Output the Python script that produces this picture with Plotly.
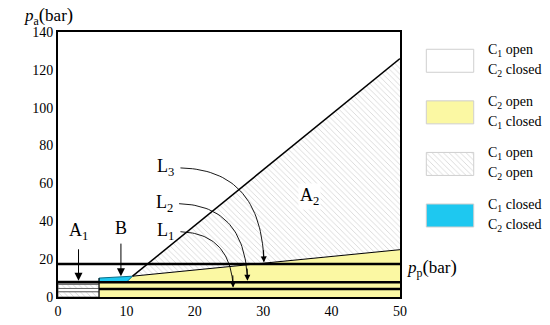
import numpy as np
import plotly.graph_objects as go

# ---------------- data ----------------
x_ticks = [0, 10, 20, 30, 40, 50]
y_ticks = [0, 20, 40, 60, 80, 100, 120, 140]

# boundaries of operating regions (p_p, p_a)
steep_x = [10.9, 50]
steep_y = [11.0, 126]
shallow_x = [10.9, 50]
shallow_y = [11.0, 25]
left_edge_x = 6          # start of yellow zone
cyan_x = [6, 10.9, 10.0, 6]
cyan_y = [10.0, 11.0, 7.8, 7.8]
# horizontal threshold lines L1, L2, L3
level_names = ["L<sub>1</sub>", "L<sub>2</sub>", "L<sub>3</sub>"]
level_vals = [4.2, 7.8, 17.5]
level_start = [6, 0, 0]
# left block bands (A1 zone)
band_lo = [0, 2.8, 4.5, 6.7]
band_hi = [2.8, 4.5, 6.7, 8.4]
band_hatched = [True, False, True, False]
# label positions and arrow tips
label_x = [17.3, 17.1, 17.3]
label_y = [34.5, 49.3, 68.2]
tip_x = [25.6, 27.7, 30.1]

legend_lines = [("C<sub>1</sub> open", "C<sub>2</sub> closed"),
                ("C<sub>2</sub> open", "C<sub>1</sub> closed"),
                ("C<sub>1</sub> open", "C<sub>2</sub> open"),
                ("C<sub>1</sub> closed", "C<sub>2</sub> closed")]
legend_kind = ["white", "yellow", "hatch", "cyan"]

YELLOW = "#fbf8a3"
CYAN = "#1ec8f0"
HATCH = dict(shape="\\", fgcolor="#a8a8a8", bgcolor="white", size=4, solidity=0.2)
FONT = "Liberation Serif"

fig = go.Figure()

# yellow region
yx = [left_edge_x, 50, 50, shallow_x[0], cyan_x[2], left_edge_x]
yy = [0, 0, shallow_y[1], shallow_y[0], cyan_y[2], cyan_y[3]]
fig.add_trace(go.Scatter(x=yx, y=yy, fill="toself", fillcolor=YELLOW,
                         line=dict(width=0), mode="lines", hoverinfo="skip"))
# hatched A2 region
hx = [steep_x[0], steep_x[1], steep_x[1], steep_x[0]]
hy = [steep_y[0], steep_y[1], shallow_y[1], steep_y[0]]
fig.add_trace(go.Scatter(x=hx, y=hy, fill="toself", fillcolor="white",
                         fillpattern=HATCH, line=dict(width=0), mode="lines",
                         hoverinfo="skip"))
# left block bands
for lo, hi, h in zip(band_lo, band_hi, band_hatched):
    kw = dict(fillpattern=HATCH) if h else {}
    fig.add_trace(go.Scatter(x=[0, left_edge_x, left_edge_x, 0, 0], y=[lo, lo, hi, hi, lo],
                             fill="toself", fillcolor="white", mode="lines",
                             line=dict(color="#606060", width=0.9), hoverinfo="skip", **kw))
# cyan region
fig.add_trace(go.Scatter(x=cyan_x + [cyan_x[0]], y=cyan_y + [cyan_y[0]], fill="toself",
                         fillcolor=CYAN, line=dict(color="#0a6f8a", width=1),
                         mode="lines", hoverinfo="skip"))
# vertical separator
fig.add_trace(go.Scatter(x=[left_edge_x, left_edge_x], y=[0, cyan_y[0]], mode="lines",
                         line=dict(color="black", width=1), hoverinfo="skip"))
# boundary lines
fig.add_trace(go.Scatter(x=steep_x, y=steep_y, mode="lines",
                         line=dict(color="black", width=1.5), hoverinfo="skip"))
fig.add_trace(go.Scatter(x=shallow_x, y=shallow_y, mode="lines",
                         line=dict(color="black", width=1), hoverinfo="skip"))
# threshold lines
for v, s in zip(level_vals, level_start):
    fig.add_trace(go.Scatter(x=[s, 50], y=[v, v], mode="lines",
                             line=dict(color="black", width=2.5), hoverinfo="skip"))

# curved arrows from L labels
for name, lx, ly, tx, tv in zip(level_names, label_x, label_y, tip_x, level_vals):
    t = np.linspace(0, 1, 40)[:, None]
    p0 = np.array([lx + 0.6, ly]); p1 = np.array([tx - 0.4, ly - 1]); p2 = np.array([tx, tv + 1.2])
    pts = (1 - t) ** 2 * p0 + 2 * (1 - t) * t * p1 + t ** 2 * p2
    fig.add_trace(go.Scatter(x=pts[:, 0], y=pts[:, 1], mode="lines",
                             line=dict(color="black", width=0.9), hoverinfo="skip"))
    fig.add_annotation(x=tx, y=tv + 0.8, ax=tx - 0.05, ay=tv + 8, xref="x", yref="y",
                       axref="x", ayref="y", showarrow=True, arrowhead=2, arrowsize=1.2,
                       arrowwidth=1, arrowcolor="black", text="")
    fig.add_annotation(x=lx, y=ly, text=name, showarrow=False, xanchor="right",
                       font=dict(family=FONT, size=18, color="black"))

# A1 and B arrows
for txt, x0, ytop, ytip, ylab in [("A<sub>1</sub>", 3.0, 26, 8.6, 34.6), ("B", 9.2, 29, 11.0, 36.5)]:
    fig.add_annotation(x=x0, y=ytip, ax=x0, ay=ytop, xref="x", yref="y", axref="x", ayref="y",
                       showarrow=True, arrowhead=2, arrowsize=1.6, arrowwidth=1,
                       arrowcolor="black", text="")
    fig.add_annotation(x=x0, y=ylab, text=txt, showarrow=False,
                       font=dict(family=FONT, size=18, color="black"))
fig.add_annotation(x=36.7, y=53, text="A<sub>2</sub>", showarrow=False, bgcolor="white",
                   font=dict(family=FONT, size=18, color="black"))

# legend (second axes)
hh = 0.223
for i, (kind, (l1, l2)) in enumerate(zip(legend_kind, legend_lines)):
    kw = {}
    fc = "white"
    if kind == "yellow":
        fc = YELLOW
    elif kind == "cyan":
        fc = CYAN
    elif kind == "hatch":
        kw = dict(fillpattern=HATCH)
    fig.add_trace(go.Scatter(x=[0.105, 0.485, 0.485, 0.105, 0.105],
                             y=[i - hh, i - hh, i + hh, i + hh, i - hh],
                             fill="toself", fillcolor=fc, mode="lines",
                             line=dict(color="#cfcfcf", width=1), xaxis="x2", yaxis="y2",
                             hoverinfo="skip", **kw))
    for k, txt in enumerate((l1, l2)):
        fig.add_annotation(x=0.58, y=i + (k - 0.5) * 0.39, xref="x2", yref="y2", text=txt,
                           showarrow=False, xanchor="left", yanchor="middle", align="left",
                           font=dict(family=FONT, size=14, color="black"))

# axis titles
fig.add_annotation(xref="paper", yref="paper", x=-0.075, y=1.06, xanchor="left",
                   yanchor="middle",
                   text="<i>p</i><sub>a</sub><span style='font-size:19px'>(</span>bar<span style='font-size:19px'>)</span>",
                   showarrow=False, font=dict(family=FONT, size=17, color="black"))
fig.add_annotation(xref="paper", yref="paper", x=0.722, y=0.108, xanchor="left",
                   yanchor="middle",
                   text="<i>p</i><sub>p</sub><span style='font-size:19px'>(</span>bar<span style='font-size:19px'>)</span>",
                   showarrow=False, font=dict(family=FONT, size=17, color="black"))

# page body has an 8px margin: size the figure to fit the 550x325 window
fig.update_layout(
    width=542, height=317, margin=dict(l=50, r=5, t=24, b=28),
    plot_bgcolor="white", paper_bgcolor="white", showlegend=False,
    xaxis=dict(domain=[0, 0.7125], range=[0, 50], tickvals=x_ticks, showgrid=False,
               zeroline=False, showline=True, linewidth=2, linecolor="black", mirror=True,
               ticks="", tickfont=dict(family=FONT, size=14, color="black")),
    yaxis=dict(range=[0, 140], tickvals=y_ticks, showgrid=False, zeroline=False,
               showline=True, linewidth=2, linecolor="black", mirror=True, ticks="",
               tickfont=dict(family=FONT, size=14, color="black")),
    xaxis2=dict(domain=[0.74, 1.0], range=[0, 1], visible=False, anchor="y2"),
    yaxis2=dict(domain=[0, 1], range=[4.58, -0.558], visible=False, anchor="x2"),
)

fig.write_html("out.html")
